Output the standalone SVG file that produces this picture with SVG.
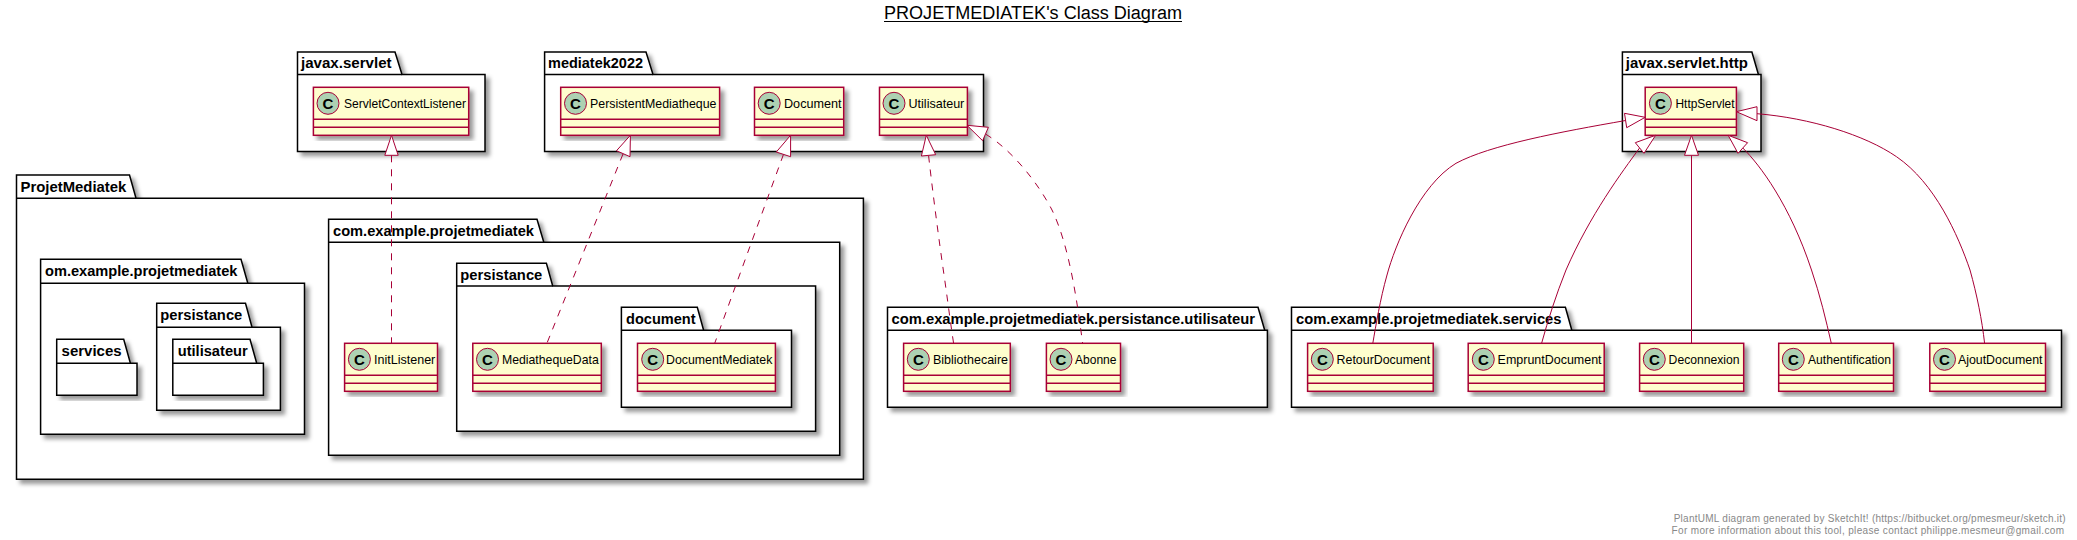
<svg xmlns="http://www.w3.org/2000/svg" width="2077" height="540" viewBox="0 0 2077 540">
<style>
text{font-family:"Liberation Sans",Arial,sans-serif;fill:#000}
.title{font-size:18px}
.foot{font-size:10px;fill:#888}
.pl{font-size:15px;font-weight:bold}
.pk{fill:#fff;stroke:#000;stroke-width:1.5;filter:url(#sh)}
.pd{fill:none;stroke:#000;stroke-width:1.5}
.cb{fill:#FEFECE;stroke:#A80036;stroke-width:1.5;filter:url(#sh)}
.cl{stroke:#A80036;stroke-width:1.5}
.ci{fill:#ADD1B2;stroke:#A80036;stroke-width:1}
.cg{font-size:15px;font-weight:bold;text-anchor:middle}
.cn{font-size:13px}
.e{fill:none;stroke:#A80036;stroke-width:1}
.d{stroke-dasharray:7,7}
.a{fill:#fff;stroke:#A80036;stroke-width:1}
</style>
<defs>
<filter id="sh" x="-5%" y="-5%" width="115%" height="115%"><feDropShadow dx="4" dy="4" stdDeviation="2" flood-color="#000" flood-opacity="0.4"/></filter>
</defs>
<rect width="2077" height="540" fill="#fff"/>
<g id="title"><text class="title" x="884" y="19" textLength="298" lengthAdjust="spacingAndGlyphs">PROJETMEDIATEK's Class Diagram</text><path d="M884 21.5H1182" stroke="#000" stroke-width="1"/></g>

<g id="pkg-javax-servlet"><path class="pk" d="M297.5 52H395L402 74.5H485V151.5H297.5Z"/><path class="pd" d="M297.5 74.5H402"/><text class="pl" x="301" y="68" textLength="90.6" lengthAdjust="spacingAndGlyphs">javax.servlet</text></g>
<g id="cls-ServletContextListener"><rect class="cb" x="313.4" y="87.3" width="155.3" height="48"/><path class="cl" d="M313.4 119.3H468.7M313.4 127.3H468.7"/><circle class="ci" cx="328" cy="103.3" r="11"/><text class="cg" x="328" y="108.5">C</text><text class="cn" x="344" y="108" textLength="122" lengthAdjust="spacingAndGlyphs">ServletContextListener</text></g>

<g id="pkg-mediatek2022"><path class="pk" d="M544.6 52H646L653 74.5H983.5V151.5H544.6Z"/><path class="pd" d="M544.6 74.5H653"/><text class="pl" x="548" y="68" textLength="95" lengthAdjust="spacingAndGlyphs">mediatek2022</text></g>
<g id="cls-PersistentMediatheque"><rect class="cb" x="560.7" y="87.3" width="158.9" height="48"/><path class="cl" d="M560.7 119.3H719.6M560.7 127.3H719.6"/><circle class="ci" cx="575.5" cy="103.3" r="11"/><text class="cg" x="575.5" y="108.5">C</text><text class="cn" x="590" y="108" textLength="126.5" lengthAdjust="spacingAndGlyphs">PersistentMediatheque</text></g>
<g id="cls-Document"><rect class="cb" x="754.5" y="87.3" width="89.2" height="48"/><path class="cl" d="M754.5 119.3H843.7M754.5 127.3H843.7"/><circle class="ci" cx="769.2" cy="103.3" r="11"/><text class="cg" x="769.2" y="108.5">C</text><text class="cn" x="784" y="108" textLength="57.5" lengthAdjust="spacingAndGlyphs">Document</text></g>
<g id="cls-Utilisateur"><rect class="cb" x="879.5" y="87.3" width="87.9" height="48"/><path class="cl" d="M879.5 119.3H967.4M879.5 127.3H967.4"/><circle class="ci" cx="894" cy="103.3" r="11"/><text class="cg" x="894" y="108.5">C</text><text class="cn" x="908.5" y="108" textLength="55.8" lengthAdjust="spacingAndGlyphs">Utilisateur</text></g>

<g id="pkg-ProjetMediatek"><path class="pk" d="M16.5 175H129.5L136 198.3H863.4V479.3H16.5Z"/><path class="pd" d="M16.5 198.3H136"/><text class="pl" x="20.5" y="192" textLength="105.8" lengthAdjust="spacingAndGlyphs">ProjetMediatek</text></g>
<g id="pkg-om-example-projetmediatek"><path class="pk" d="M40.6 259.3H241L247.8 283.3H304.5V434.3H40.6Z"/><path class="pd" d="M40.6 283.3H247.8"/><text class="pl" x="45" y="276" textLength="192.4" lengthAdjust="spacingAndGlyphs">om.example.projetmediatek</text></g>
<g id="pkg-om-services"><path class="pk" d="M56.7 339.3H123.7L130.4 363.3H137V395.3H56.7Z"/><path class="pd" d="M56.7 363.3H130.4"/><text class="pl" x="61.6" y="356" textLength="60" lengthAdjust="spacingAndGlyphs">services</text></g>
<g id="pkg-om-persistance"><path class="pk" d="M156.7 303.3H245.5L252 327.3H280.4V410.3H156.7Z"/><path class="pd" d="M156.7 327.3H252"/><text class="pl" x="160.3" y="320" textLength="82" lengthAdjust="spacingAndGlyphs">persistance</text></g>
<g id="pkg-om-utilisateur"><path class="pk" d="M172.8 339.3H250L256.7 363.3H263.4V395.3H172.8Z"/><path class="pd" d="M172.8 363.3H256.7"/><text class="pl" x="177.7" y="356" textLength="70" lengthAdjust="spacingAndGlyphs">utilisateur</text></g>

<g id="pkg-com-example-projetmediatek"><path class="pk" d="M328.6 219.3H537L543.8 242.3H839.7V455.3H328.6Z"/><path class="pd" d="M328.6 242.3H543.8"/><text class="pl" x="333" y="235.5" textLength="201" lengthAdjust="spacingAndGlyphs">com.example.projetmediatek</text></g>
<g id="cls-InitListener"><rect class="cb" x="344.6" y="343.3" width="92.9" height="48"/><path class="cl" d="M344.6 375.3H437.5M344.6 383.3H437.5"/><circle class="ci" cx="359.4" cy="359.3" r="11"/><text class="cg" x="359.4" y="364.5">C</text><text class="cn" x="374" y="364" textLength="61.3" lengthAdjust="spacingAndGlyphs">InitListener</text></g>
<g id="pkg-com-persistance"><path class="pk" d="M456.7 263.3H546.4L552.7 286H815.6V431.3H456.7Z"/><path class="pd" d="M456.7 286H552.7"/><text class="pl" x="460.3" y="280" textLength="82" lengthAdjust="spacingAndGlyphs">persistance</text></g>
<g id="cls-MediathequeData"><rect class="cb" x="472.8" y="343.3" width="128.5" height="48"/><path class="cl" d="M472.8 375.3H601.3M472.8 383.3H601.3"/><circle class="ci" cx="487.5" cy="359.3" r="11"/><text class="cg" x="487.5" y="364.5">C</text><text class="cn" x="502" y="364" textLength="96.7" lengthAdjust="spacingAndGlyphs">MediathequeData</text></g>
<g id="pkg-document"><path class="pk" d="M621.4 307.3H697.3L703.6 330.3H791.5V407.3H621.4Z"/><path class="pd" d="M621.4 330.3H703.6"/><text class="pl" x="626" y="324" textLength="69.6" lengthAdjust="spacingAndGlyphs">document</text></g>
<g id="cls-DocumentMediatek"><rect class="cb" x="637.5" y="343.3" width="137.9" height="48"/><path class="cl" d="M637.5 375.3H775.4M637.5 383.3H775.4"/><circle class="ci" cx="652.7" cy="359.3" r="11"/><text class="cg" x="652.7" y="364.5">C</text><text class="cn" x="666" y="364" textLength="106.3" lengthAdjust="spacingAndGlyphs">DocumentMediatek</text></g>

<g id="pkg-persistance-utilisateur"><path class="pk" d="M887.5 307.3H1258L1264.7 330.3H1267.4V407.3H887.5Z"/><path class="pd" d="M887.5 330.3H1264.7"/><text class="pl" x="891.5" y="324" textLength="363.4" lengthAdjust="spacingAndGlyphs">com.example.projetmediatek.persistance.utilisateur</text></g>
<g id="cls-Bibliothecaire"><rect class="cb" x="903.6" y="343.3" width="106.7" height="48"/><path class="cl" d="M903.6 375.3H1010.3M903.6 383.3H1010.3"/><circle class="ci" cx="918.3" cy="359.3" r="11"/><text class="cg" x="918.3" y="364.5">C</text><text class="cn" x="933" y="364" textLength="75" lengthAdjust="spacingAndGlyphs">Bibliothecaire</text></g>
<g id="cls-Abonne"><rect class="cb" x="1046.4" y="343.3" width="74.1" height="48"/><path class="cl" d="M1046.4 375.3H1120.5M1046.4 383.3H1120.5"/><circle class="ci" cx="1061" cy="359.3" r="11"/><text class="cg" x="1061" y="364.5">C</text><text class="cn" x="1075" y="364" textLength="41.5" lengthAdjust="spacingAndGlyphs">Abonne</text></g>

<g id="pkg-javax-servlet-http"><path class="pk" d="M1622.4 52H1751.9L1758.4 74.5H1761V151.5H1622.4Z"/><path class="pd" d="M1622.4 74.5H1758.4"/><text class="pl" x="1625.8" y="68" textLength="122" lengthAdjust="spacingAndGlyphs">javax.servlet.http</text></g>
<g id="cls-HttpServlet"><rect class="cb" x="1645.2" y="87.3" width="91.2" height="48"/><path class="cl" d="M1645.2 119.3H1736.4M1645.2 127.3H1736.4"/><circle class="ci" cx="1660.4" cy="103.3" r="11"/><text class="cg" x="1660.4" y="108.5">C</text><text class="cn" x="1675.5" y="108" textLength="59" lengthAdjust="spacingAndGlyphs">HttpServlet</text></g>

<g id="pkg-services"><path class="pk" d="M1291.5 307.3H1565.4L1571.8 330.3H2061.5V407.3H1291.5Z"/><path class="pd" d="M1291.5 330.3H1571.8"/><text class="pl" x="1296" y="324" textLength="265.5" lengthAdjust="spacingAndGlyphs">com.example.projetmediatek.services</text></g>
<g id="cls-RetourDocument"><rect class="cb" x="1307.6" y="343.3" width="125.6" height="48"/><path class="cl" d="M1307.6 375.3H1433.2M1307.6 383.3H1433.2"/><circle class="ci" cx="1322.3" cy="359.3" r="11"/><text class="cg" x="1322.3" y="364.5">C</text><text class="cn" x="1336.6" y="364" textLength="93.6" lengthAdjust="spacingAndGlyphs">RetourDocument</text></g>
<g id="cls-EmpruntDocument"><rect class="cb" x="1468.2" y="343.3" width="136" height="48"/><path class="cl" d="M1468.2 375.3H1604.2M1468.2 383.3H1604.2"/><circle class="ci" cx="1483.3" cy="359.3" r="11"/><text class="cg" x="1483.3" y="364.5">C</text><text class="cn" x="1497.6" y="364" textLength="104" lengthAdjust="spacingAndGlyphs">EmpruntDocument</text></g>
<g id="cls-Deconnexion"><rect class="cb" x="1639.6" y="343.3" width="104.1" height="48"/><path class="cl" d="M1639.6 375.3H1743.7M1639.6 383.3H1743.7"/><circle class="ci" cx="1654.3" cy="359.3" r="11"/><text class="cg" x="1654.3" y="364.5">C</text><text class="cn" x="1668.6" y="364" textLength="71" lengthAdjust="spacingAndGlyphs">Deconnexion</text></g>
<g id="cls-Authentification"><rect class="cb" x="1778.7" y="343.3" width="114.8" height="48"/><path class="cl" d="M1778.7 375.3H1893.5M1778.7 383.3H1893.5"/><circle class="ci" cx="1793.3" cy="359.3" r="11"/><text class="cg" x="1793.3" y="364.5">C</text><text class="cn" x="1808" y="364" textLength="83" lengthAdjust="spacingAndGlyphs">Authentification</text></g>
<g id="cls-AjoutDocument"><rect class="cb" x="1929.8" y="343.3" width="115.7" height="48"/><path class="cl" d="M1929.8 375.3H2045.5M1929.8 383.3H2045.5"/><circle class="ci" cx="1944.5" cy="359.3" r="11"/><text class="cg" x="1944.5" y="364.5">C</text><text class="cn" x="1957.9" y="364" textLength="84.6" lengthAdjust="spacingAndGlyphs">AjoutDocument</text></g>

<g id="connectors">
<path class="e d" d="M391.5 155.3V343.3"/><path class="a" d="M391.5 135.3L384.8 155.3H398.2Z"/>
<path class="e d" d="M623 154L546.9 343.3"/><path class="a" d="M630.4 135.3L616.5 150.7L630 156.7Z"/>
<path class="e d" d="M783.5 154.3L714.7 343.3"/><path class="a" d="M790.6 135.3L776.3 152L790.6 156.7Z"/>
<path class="e d" d="M928.6 155.7C933 195 939 240 943.3 270C947 295 950 320 953.6 343.3"/><path class="a" d="M926.3 135.3L921.4 156L935.7 154.7Z"/>
<path class="e d" d="M985.5 134C1012 150 1038 183 1052 210C1069 245 1077 300 1082.6 343.3"/><path class="a" d="M967 125.3L988.4 127.3L982.6 140.7Z"/>
<path class="e" d="M1625.6 120.5C1560 132 1490 145 1456 163.3C1420 185 1395 245 1387 275C1380 300 1376 325 1372.8 343.3"/><path class="a" d="M1645.2 117.3L1624.5 113.3L1626.7 127.7Z"/>
<path class="e" d="M1639.6 148C1622 172 1590 215 1566 270C1556 295 1548 320 1541.6 343.3"/><path class="a" d="M1655.6 135.3L1635.3 142.7L1644 153.3Z"/>
<path class="e" d="M1691.5 155.3V343.3"/><path class="a" d="M1691.5 135.3L1684.5 155.3H1698.5Z"/>
<path class="e" d="M1742.8 148C1760 165 1790 205 1811.5 270C1820 295 1826 320 1831.3 343.3"/><path class="a" d="M1728.2 135.3L1747.6 142.7L1738 153.3Z"/>
<path class="e" d="M1757 113.7C1810 118 1865 135 1896.5 156.7C1935 183 1958 235 1970 270C1977 295 1982 320 1984.6 343.3"/><path class="a" d="M1736.4 111.7L1757 106.7V120.7Z"/>
</g>
<g id="footer">
<text class="foot" x="1673.7" y="521.7" textLength="392">PlantUML diagram generated by SketchIt! (https://bitbucket.org/pmesmeur/sketch.it)</text>
<text class="foot" x="1671.6" y="533.5" textLength="392.4">For more information about this tool, please contact philippe.mesmeur@gmail.com</text>
</g>
</svg>
